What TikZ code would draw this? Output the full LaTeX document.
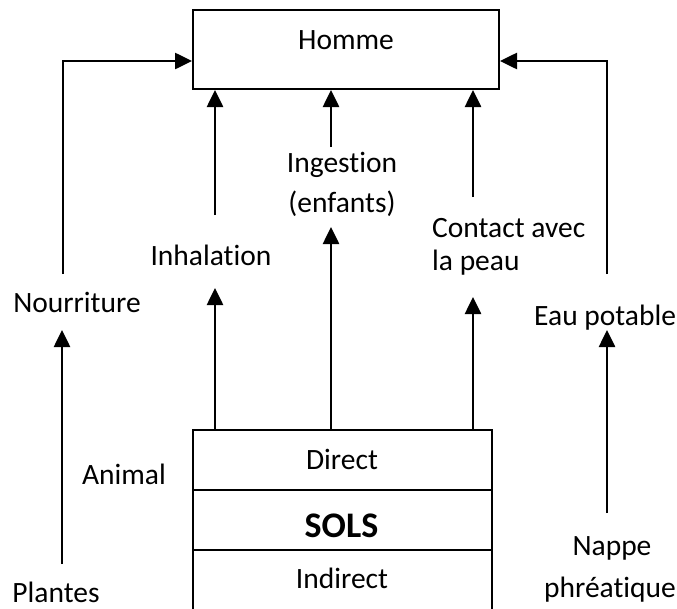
\documentclass[tikz,border=0pt]{standalone}
\usepackage{fontspec}
\setmainfont{Carlito}[Ligatures=NoCommon]
\usetikzlibrary{arrows.meta}
\begin{document}
\begin{tikzpicture}[x=1pt,y=-1pt,
  flow/.style={line width=2.6pt,-{Triangle[length=17pt,width=16pt]}},
  frame/.style={draw,line width=2pt,inner sep=0pt,minimum width=299pt},
  lbl/.style={anchor=base,inner sep=0pt,font=\fontsize{29.5}{35}\selectfont},
  lblw/.style={lbl,anchor=base west}]
\clip (0,0) rectangle (677,608);
\fill[white] (0,0) rectangle (677,608);

% receptor box
\node[frame,minimum width=306pt,minimum height=79pt] (homme) at (346,49.5) {};
\node[lbl] (hommeT) at (346,49) {Homme};

% soil stack
\node[frame,minimum height=60pt] (direct) at (342.5,460) {};
\node[frame,minimum height=60pt] (sols) at (342.5,520) {};
\node[frame,minimum height=80pt] (indirect) at (342.5,590) {};
\node[lbl] (directT) at (342,469) {Direct};
\node[lbl,font=\fontsize{36}{42}\selectfont\bfseries] (solsT) at (341.5,537) {SOLS};
\node[lbl] (indirectT) at (342,588) {Indirect};

% exposure pathways
\node[lbl] (ingT1) at (342,172) {Ingestion};
\node[lbl] (ingT2) at (342,212) {(enfants)};
\node[lbl] (inhT) at (211,265) {Inhalation};
\node[lblw] (conT1) at (432,237) {Contact avec};
\node[lblw] (conT2) at (432,270) {la peau};
\node[lbl] (nourT) at (77,312) {Nourriture};
\node[lblw] (eauT) at (534,325) {Eau potable};
\node[lbl] (animT) at (124,484) {Animal};
\node[lbl] (plantT) at (56,602) {Plantes};
\node[lbl] (nappeT1) at (612,555) {Nappe};
\node[lbl] (nappeT2) at (610,597) {phréatique};

% free ends of the connectors
\coordinate (inhTop) at (215,215);
\coordinate (ingTop) at (331,147);
\coordinate (conTop) at (473,197);
\coordinate (inhBot) at (215,288);
\coordinate (ingBot) at (331,227);
\coordinate (conBot) at (473,297);
\coordinate (nourTop) at (63,274);
\coordinate (eauTop) at (607,274);
\coordinate (nourBot) at (62,330);
\coordinate (plantTop) at (62,564);
\coordinate (eauBot) at (607,330);
\coordinate (nappeTop) at (607,513);

% into the receptor
\draw[flow] (nourTop) |- ([yshift=-11.5pt]homme.west);
\draw[flow] (eauTop) |- ([yshift=-11.5pt]homme.east);
\draw[flow] (inhTop) -- (inhTop |- homme.south);
\draw[flow] (ingTop) -- (ingTop |- homme.south);
\draw[flow] (conTop) -- (conTop |- homme.south);

% out of the soil
\draw[flow] (direct.north -| inhBot) -- (inhBot);
\draw[flow] (direct.north -| ingBot) -- (ingBot);
\draw[flow] (direct.north -| conBot) -- (conBot);
\draw[flow] (plantTop) -- (nourBot);
\draw[flow] (nappeTop) -- (eauBot);
\end{tikzpicture}
\end{document}
